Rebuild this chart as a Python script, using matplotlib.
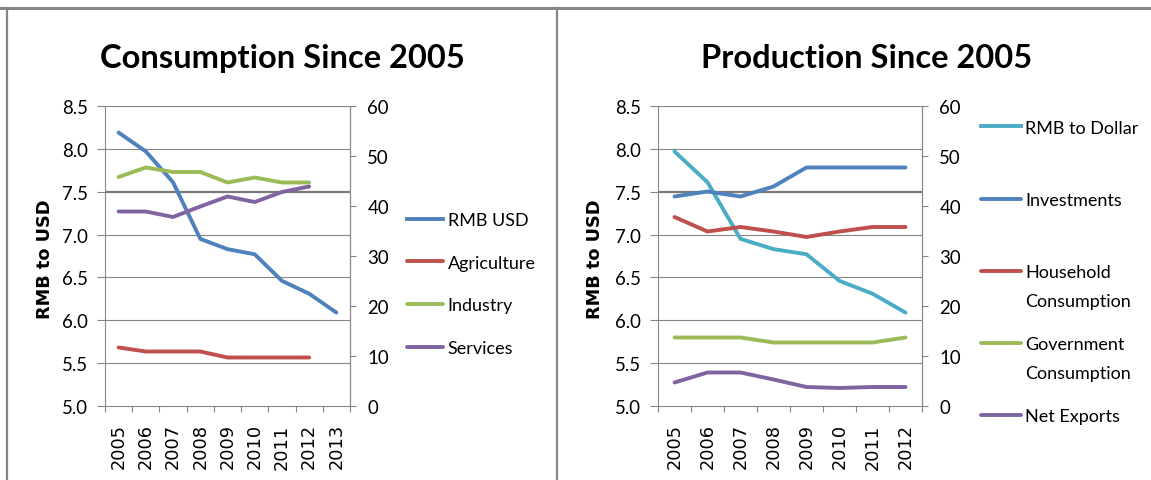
import matplotlib
matplotlib.use("Agg")
import matplotlib.pyplot as plt
from matplotlib.lines import Line2D
import numpy as np

# ---------------- data ----------------
years_cons = ["2005", "2006", "2007", "2008", "2009", "2010", "2011", "2012", "2013"]
rmb_usd = [8.19, 7.97, 7.61, 6.95, 6.83, 6.77, 6.46, 6.31, 6.09]          # left axis
agriculture = [11.7, 10.9, 10.9, 10.9, 9.7, 9.7, 9.7, 9.7]                # right axis (2005-2012)
industry = [45.8, 47.7, 46.8, 46.8, 44.7, 45.7, 44.7, 44.7]
services = [38.9, 38.9, 37.8, 39.9, 41.9, 40.8, 42.8, 43.9]

years_prod = ["2005", "2006", "2007", "2008", "2009", "2010", "2011", "2012"]
rmb_dollar = [7.97, 7.61, 6.95, 6.83, 6.77, 6.46, 6.31, 6.09]             # left axis
investments = [41.9, 42.9, 41.9, 43.9, 47.7, 47.7, 47.7, 47.7]            # right axis
household = [37.8, 34.9, 35.8, 34.9, 33.8, 34.9, 35.8, 35.8]
government = [13.7, 13.7, 13.7, 12.7, 12.7, 12.7, 12.7, 13.7]
net_exports = [4.7, 6.7, 6.7, 5.3, 3.8, 3.6, 3.8, 3.8]

left_ticks = [5.0, 5.5, 6.0, 6.5, 7.0, 7.5, 8.0, 8.5]
right_ticks = [0, 10, 20, 30, 40, 50, 60]

# ---------------- style ----------------
BLUE = "#4F81BD"
RED = "#C0504D"
GREEN = "#9BBB59"
PURPLE = "#8064A2"
CYAN = "#4BACC6"
GRID = "#868686"
LW = 2.8

TICK_FONT = dict(family=["Lato", "DejaVu Sans"], size=13.4)
XTICK_FONT = dict(family=["DejaVu Sans"], size=12.8)
TITLE_FONT = dict(family=["Lato", "DejaVu Sans"], size=23.5, weight="bold")
YLAB_FONT = dict(family=["DejaVu Sans"], size=12.8, weight="bold")
LEG_FONT = dict(family=["Lato", "DejaVu Sans"], size=13)

W, H = 1151, 481
fig = plt.figure(figsize=(W / 100, H / 100), dpi=100)

# frame lines of the picture
fig.add_artist(Line2D([0, 1], [1 - 9 / H, 1 - 9 / H], transform=fig.transFigure, color=GRID, lw=2.2))
fig.add_artist(Line2D([6.5 / W, 6.5 / W], [0, 1 - 9 / H], transform=fig.transFigure, color=GRID, lw=1.6))
fig.add_artist(Line2D([557 / W, 557 / W], [0, 1 - 9 / H], transform=fig.transFigure, color=GRID, lw=1.6))


def make_panel(rect, cats, left_series, right_series, title, title_x, legend_anchor,
               handlelength, labelspacing, ylab_x):
    ax = fig.add_axes(rect)
    n = len(cats)
    x = np.arange(n)
    ax.set_xlim(-0.5, n - 0.5)
    ax.set_ylim(5.0, 8.5)
    ax.set_yticks(left_ticks)
    ax.set_yticklabels([f"{v:.1f}" for v in left_ticks], **TICK_FONT)
    ax.set_xticks(x)
    ax.set_xticklabels(cats, rotation=90, va="top", ha="center", **XTICK_FONT)
    ax.set_xticks(np.arange(n + 1) - 0.5, minor=True)
    ax.tick_params(axis="x", which="major", length=0, pad=12.5)
    ax.tick_params(axis="x", which="minor", length=4.5, color=GRID, width=0.8)
    ax.tick_params(axis="y", length=5.5, color=GRID, width=0.8, pad=6.5)
    ax.spines["top"].set_visible(False)
    for s in ["left", "bottom", "right"]:
        ax.spines[s].set_color(GRID)
        ax.spines[s].set_linewidth(0.8)
    for v in left_ticks[1:]:
        ax.axhline(v, color=GRID if v != 7.5 else "#7a7a7a", lw=0.8 if v != 7.5 else 1.6, zorder=0)
    ax.set_ylabel("RMB to USD", va="center", **YLAB_FONT)
    ax.yaxis.set_label_coords(ylab_x, 0.493)

    ax2 = ax.twinx()
    ax2.set_ylim(0, 60)
    ax2.set_yticks(right_ticks)
    ax2.set_yticklabels([str(v) for v in right_ticks], **TICK_FONT)
    ax2.tick_params(axis="y", length=4.5, color=GRID, width=0.8, pad=8)
    for s in ["top", "left", "bottom"]:
        ax2.spines[s].set_visible(False)
    ax2.spines["right"].set_color(GRID)
    ax2.spines["right"].set_linewidth(0.8)
    ax2.set_xlim(-0.5, n - 0.5)

    handles = []
    lab, vals, col = left_series
    h, = ax2.plot([], [], color=col, lw=LW)
    ax.plot(x[:len(vals)], vals, color=col, lw=LW, solid_capstyle="round", solid_joinstyle="round", zorder=3)
    handles.append((h, lab))
    for lab, vals, col in right_series:
        h, = ax2.plot(x[:len(vals)], vals, color=col, lw=LW, solid_capstyle="round", solid_joinstyle="round")
        handles.append((h, lab))

    first_lines = [l.split("\n")[0] for _, l in handles]
    leg = ax2.legend([h for h, _ in handles], first_lines, loc="center left",
                     bbox_to_anchor=legend_anchor, bbox_transform=fig.transFigure,
                     frameon=False, borderpad=0, borderaxespad=0, handlelength=handlelength,
                     handletextpad=0.25, labelspacing=labelspacing, prop=LEG_FONT)
    for t, (_, full) in zip(leg.get_texts(), handles):
        t.set_color("black")
        parts = full.split("\n")
        if len(parts) > 1:
            ax2.annotate(parts[1], xy=(0, 0), xycoords=t, xytext=(0, -29),
                         textcoords="offset pixels", ha="left", va="bottom",
                         zorder=10, annotation_clip=False, color="black", **LEG_FONT)

    fig.text(title_x, 1 - 68 / H, title, ha="center", va="baseline", **TITLE_FONT)
    return ax, ax2


make_panel([105 / W, (H - 407) / H, 245 / W, 300 / H], years_cons,
           ("RMB USD", rmb_usd, BLUE),
           [("Agriculture", agriculture, RED), ("Industry", industry, GREEN), ("Services", services, PURPLE)],
           "Consumption Since 2005", 282 / W, (407 / W, 1 - 285 / H), 2.0, 1.48, -0.245)

make_panel([658 / W, (H - 407) / H, 264 / W, 300 / H], years_prod,
           ("RMB to Dollar", rmb_dollar, CYAN),
           [("Investments", investments, BLUE), ("Household\nConsumption", household, RED),
            ("Government\nConsumption", government, GREEN), ("Net Exports", net_exports, PURPLE)],
           "Production Since 2005", 867 / W, (981 / W, 1 - 273 / H), 2.2, 3.11, -0.24)

fig.savefig("out.png", dpi=100)
